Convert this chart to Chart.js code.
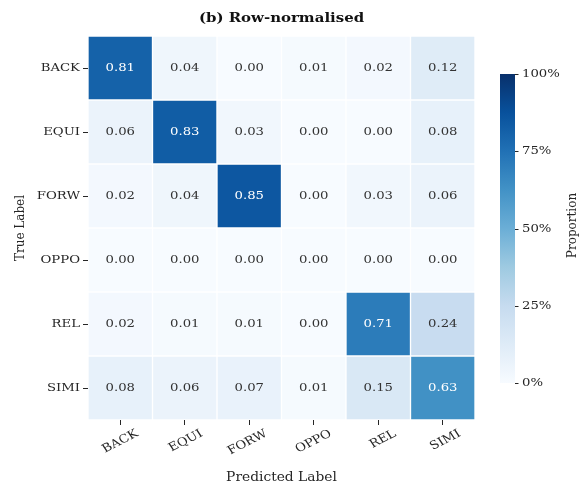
<!DOCTYPE html>
<html>
<head>
<meta charset="utf-8">
<script src="https://cdn.jsdelivr.net/npm/chart.js@4/dist/chart.umd.min.js"></script>
<style>
  html, body { margin: 0; padding: 0; background: #fff; }
  #wrap { width: 581px; height: 489px; }
</style>
</head>
<body>
<div id="wrap"><canvas id="chart" width="581" height="489"></canvas></div>
<script>
// categories (true label rows, predicted label columns)
const rowLabels = ["BACK", "EQUI", "FORW", "OPPO", "REL", "SIMI"];
const colLabels = ["BACK", "EQUI", "FORW", "OPPO", "REL", "SIMI"];

// row-normalised proportions, one array per true label
const backRow = [0.81, 0.04, 0.00, 0.01, 0.02, 0.12];
const equiRow = [0.06, 0.83, 0.03, 0.00, 0.00, 0.08];
const forwRow = [0.02, 0.04, 0.85, 0.00, 0.03, 0.06];
const oppoRow = [0.00, 0.00, 0.00, 0.00, 0.00, 0.00];
const relRow  = [0.02, 0.01, 0.01, 0.00, 0.71, 0.24];
const simiRow = [0.08, 0.06, 0.07, 0.01, 0.15, 0.63];
const matrix = [backRow, equiRow, forwRow, oppoRow, relRow, simiRow];

// colour bar ticks
const cbarTicks = [0, 0.25, 0.5, 0.75, 1];
const cbarTickLabels = ["0%", "25%", "50%", "75%", "100%"];

// matplotlib "Blues"
const blues = ["#f7fbff", "#deebf7", "#c6dbef", "#9ecae1", "#6baed6",
               "#4292c6", "#2171b5", "#08519c", "#08306b"];

function hexToRgb(h) {
  return [parseInt(h.slice(1, 3), 16), parseInt(h.slice(3, 5), 16), parseInt(h.slice(5, 7), 16)];
}

function bluesColor(v) {
  v = Math.max(0, Math.min(1, v));
  const pos = v * (blues.length - 1);
  const i = Math.min(Math.floor(pos), blues.length - 2);
  const t = pos - i;
  const a = hexToRgb(blues[i]), b = hexToRgb(blues[i + 1]);
  const c = a.map((x, k) => Math.round(x + (b[k] - x) * t));
  return `rgb(${c[0]},${c[1]},${c[2]})`;
}

const SERIF = "'DejaVu Serif', serif";
const textColor = "#262626";

const canvas = document.getElementById("chart");
const ctx = canvas.getContext("2d");

// the original figure text is a bit wider than it is tall,
// so stretch every glyph horizontally around its anchor point
const TEXT_STRETCH = 1.15;
const baseFillText = ctx.fillText;
ctx.fillText = function (text, x, y, maxWidth) {
  const m = this.getTransform();
  const px = m.a * x + m.c * y + m.e;
  this.save();
  this.setTransform(TEXT_STRETCH, 0, 0, 1, px * (1 - TEXT_STRETCH), 0);
  this.transform(m.a, m.b, m.c, m.d, m.e, m.f);
  if (maxWidth === undefined) baseFillText.call(this, text, x, y);
  else baseFillText.call(this, text, x, y, maxWidth);
  this.restore();
};

const datasets = matrix.map((row, r) => ({
  label: rowLabels[r],
  data: row.map(() => 1),
  values: row,
  backgroundColor: row.map(v => bluesColor(v)),
  borderColor: "#ffffff",
  borderWidth: 1,
  borderSkipped: false,
  barPercentage: 1,
  categoryPercentage: 1
}));

// write the value in every cell
const cellText = {
  id: "cellText",
  afterDatasetsDraw(chart) {
    const c = chart.ctx;
    c.save();
    c.font = "11.5px " + SERIF;
    c.textAlign = "center";
    c.textBaseline = "middle";
    chart.data.datasets.forEach((ds, r) => {
      const meta = chart.getDatasetMeta(r);
      meta.data.forEach((bar, i) => {
        const v = ds.values[i];
        const y = (bar.y + bar.base) / 2;
        c.fillStyle = v > 0.5 ? "#ffffff" : "#333333";
        c.fillText(v.toFixed(2), bar.x, y);
      });
    });
    c.restore();
  }
};

// colour bar on the right
const colorBar = {
  id: "colorBar",
  afterDraw(chart) {
    const c = chart.ctx;
    const area = chart.chartArea;
    const x0 = area.right + 25, w = 15;
    const top = area.top + 38, bottom = area.bottom - 37;
    const grad = c.createLinearGradient(0, bottom, 0, top);
    blues.forEach((col, i) => grad.addColorStop(i / (blues.length - 1), col));
    c.save();
    c.fillStyle = grad;
    c.fillRect(x0, top, w, bottom - top);
    c.strokeStyle = textColor;
    c.fillStyle = textColor;
    c.lineWidth = 1;
    c.font = "11.5px " + SERIF;
    c.textAlign = "left";
    c.textBaseline = "middle";
    cbarTicks.forEach((t, i) => {
      const y = Math.round(bottom - t * (bottom - top)) + 0.5;
      c.beginPath();
      c.moveTo(x0 + w, y);
      c.lineTo(x0 + w + 3.5, y);
      c.stroke();
      c.fillText(cbarTickLabels[i], x0 + w + 7, y);
    });
    c.translate(x0 + w + 57, (top + bottom) / 2 - 3);
    c.rotate(-Math.PI / 2);
    c.textAlign = "center";
    c.font = "12px " + SERIF;
    c.fillText("Proportion", 0, 0);
    c.restore();
  }
};

new Chart(ctx, {
  type: "bar",
  data: { labels: colLabels, datasets: datasets },
  plugins: [cellText, colorBar],
  options: {
    responsive: false,
    animation: false,
    layout: { padding: { left: 9, right: 106, top: 0, bottom: 0 } },
    plugins: {
      legend: { display: false },
      tooltip: { enabled: false },
      title: {
        display: true,
        text: "(b) Row-normalised",
        color: "#111",
        fullSize: false,
        font: { family: SERIF, size: 13, weight: "bold" },
        padding: { top: 11, bottom: 9.4 }
      }
    },
    scales: {
      x: {
        stacked: true,
        offset: true,
        grid: { display: true, offset: false, drawOnChartArea: false, drawTicks: true, tickLength: 5, color: textColor },
        border: { display: false },
        ticks: {
          color: textColor,
          font: { family: SERIF, size: 11.5 },
          minRotation: 30,
          maxRotation: 30,
          labelOffset: 17,
          padding: 2
        },
        title: { display: true, text: "Predicted Label", color: textColor, font: { family: SERIF, size: 12 } },
        afterFit(scale) { scale.height = 69; }
      },
      y: {
        stacked: true,
        reverse: true,
        min: 0,
        max: 6,
        grid: { display: true, drawOnChartArea: false, drawTicks: true, tickLength: 5, color: textColor },
        border: { display: false },
        afterBuildTicks(scale) {
          scale.ticks = rowLabels.map((_, i) => ({ value: i + 0.5 }));
        },
        ticks: {
          color: textColor,
          font: { family: SERIF, size: 11.5 },
          padding: 3,
          callback: v => rowLabels[Math.floor(v)]
        },
        title: { display: true, text: "True Label", color: textColor, font: { family: SERIF, size: 12 } },
        afterFit(scale) { scale.width = 79; }
      }
    }
  }
});
</script>
</body>
</html>
